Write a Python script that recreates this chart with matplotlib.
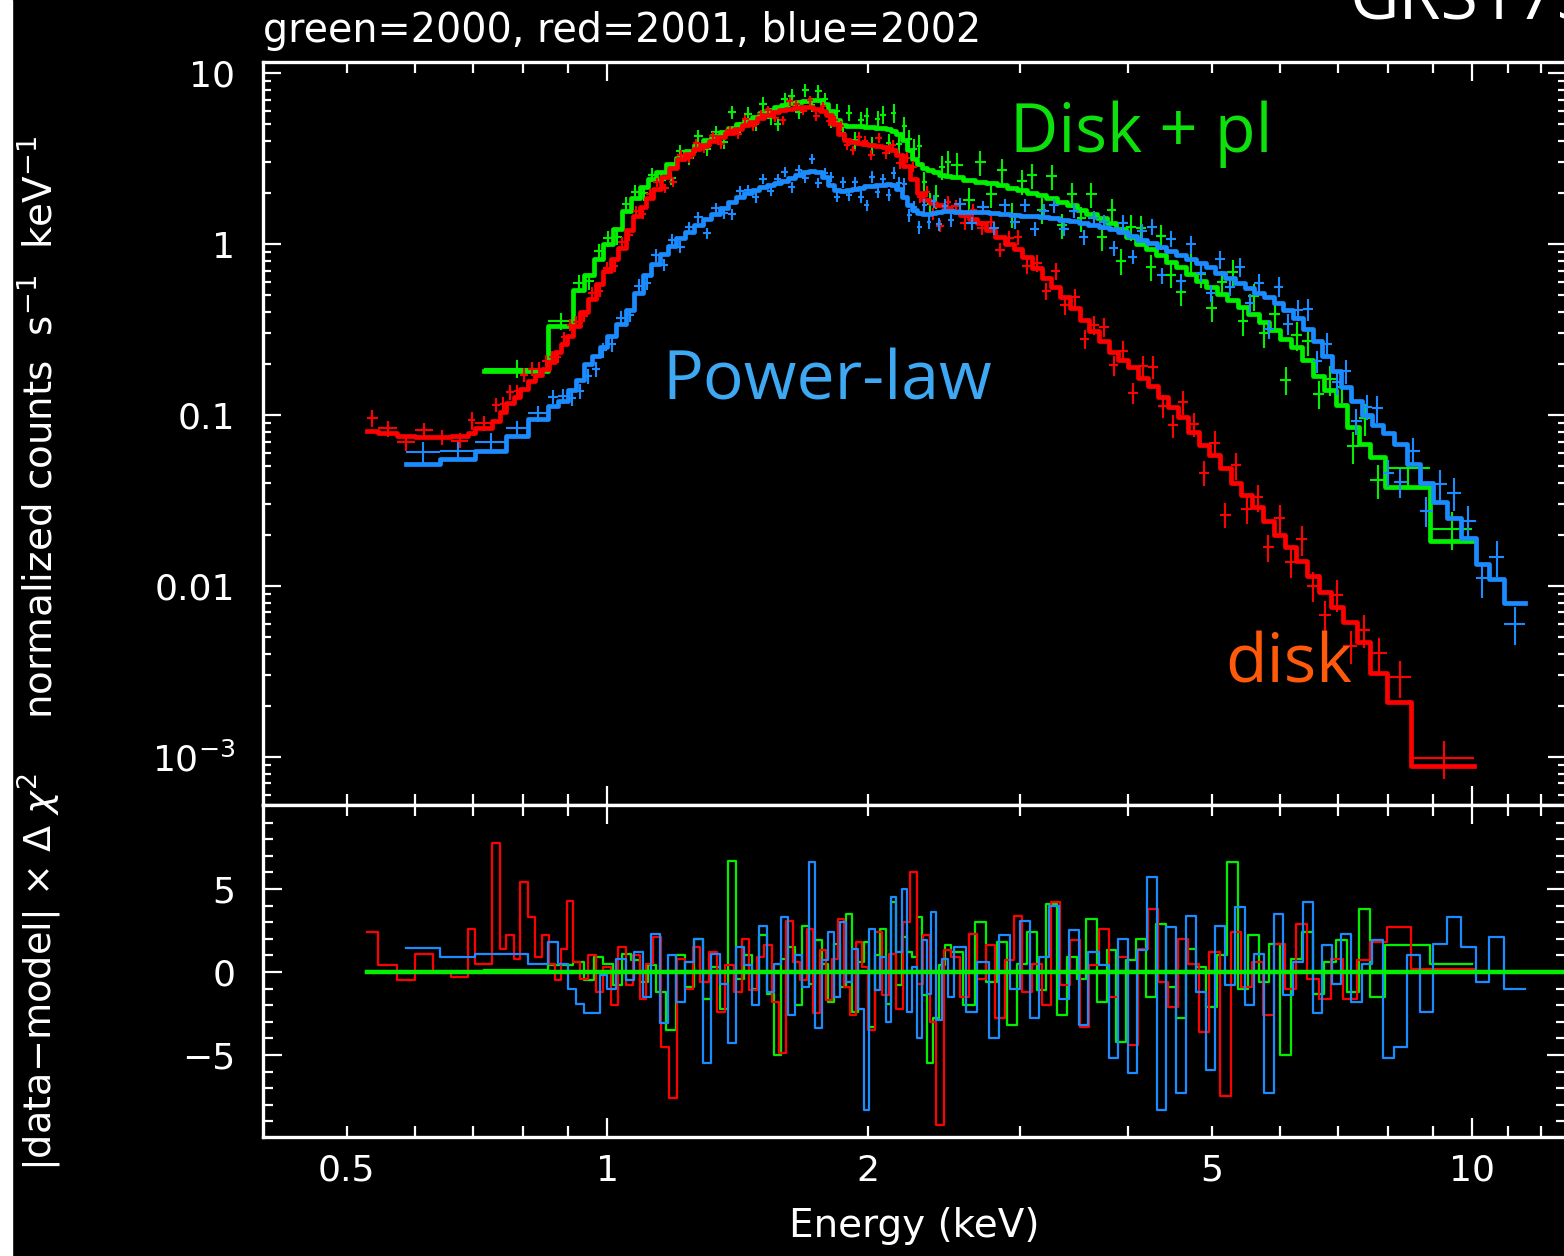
import numpy as np
import matplotlib
matplotlib.use("Agg")
import matplotlib.pyplot as plt
from matplotlib.ticker import FixedLocator, FixedFormatter, NullFormatter
from matplotlib.patches import Rectangle

# --- 2001 (red) : bin edges (keV), model, residual, relative error ---
red_edges = [0.527, 0.543, 0.572, 0.600, 0.629, 0.660, 0.691, 0.704, 0.735, 0.752,
             0.764, 0.781, 0.793, 0.810, 0.826, 0.841, 0.857, 0.871, 0.885, 0.899,
             0.913,
             0.93, 0.95, 0.97, 0.99, 1.01, 1.03, 1.05, 1.07, 1.09, 1.11,
             1.13, 1.155, 1.18, 1.205, 1.23, 1.255, 1.28, 1.31, 1.34, 1.37,
             1.40, 1.43, 1.46, 1.49, 1.52, 1.55, 1.58, 1.61, 1.64, 1.67,
             1.70, 1.73, 1.76, 1.79, 1.82, 1.85, 1.88, 1.91, 1.94, 1.97,
             2.00, 2.04, 2.08, 2.12, 2.16, 2.20, 2.24, 2.28, 2.32, 2.36,
             2.40, 2.45, 2.50,
             2.56, 2.62, 2.68, 2.74, 2.81, 2.88, 2.95, 3.02, 3.10, 3.18,
             3.26, 3.34, 3.43, 3.52, 3.61, 3.70, 3.80, 3.90, 4.00, 4.11,
             4.22, 4.33, 4.45, 4.57, 4.70, 4.83, 4.97, 5.11, 5.26, 5.41,
             5.57, 5.73, 5.90, 6.08, 6.26, 6.45, 6.65, 6.86, 7.10, 7.37,
             7.63, 7.98, 8.51, 10.05]
red_model = [0.081, 0.078, 0.075, 0.074, 0.074, 0.075, 0.078, 0.084, 0.092, 0.104,
             0.118, 0.128, 0.142, 0.158, 0.172, 0.185, 0.205, 0.233, 0.26, 0.29,
             0.33, 0.40, 0.48, 0.58, 0.70, 0.82, 0.95, 1.20, 1.45, 1.65,
             1.87, 2.10, 2.45, 2.80, 3.15, 3.38, 3.60, 3.80, 4.00, 4.22,
             4.45, 4.70, 4.95, 5.20, 5.45, 5.65, 5.95, 6.10, 6.20, 6.28,
             6.30, 6.30, 6.20, 6.00, 5.65, 5.00, 4.40, 4.05, 3.95, 3.88,
             3.84, 3.80, 3.76, 3.70, 3.55, 3.30, 2.85, 2.40, 2.00, 1.82,
             1.74, 1.68, 1.62,
             1.55, 1.48, 1.40, 1.32, 1.20, 1.10, 1.00, 0.93, 0.84, 0.72,
             0.63, 0.56, 0.49, 0.42, 0.36, 0.31, 0.27, 0.235, 0.21, 0.19,
             0.165, 0.148, 0.128, 0.112, 0.097, 0.080, 0.067, 0.058, 0.049, 0.040,
             0.034, 0.029, 0.024, 0.020, 0.017, 0.0140, 0.0115, 0.0092, 0.0075, 0.0062,
             0.0047, 0.0031, 0.0021, 0.00089]
red_resid = [2.4, 0.4, -0.5, 1.1, 0.0, -0.3, 2.6, 0.5, 7.8, 1.4,
             2.2, 0.8, 5.4, 3.3, 0.9, 2.2, 0.5, -0.5, 1.4, 4.3,
             0.6, -0.4, 1.0, -1.2, 0.3, -2.0, 1.5, -0.8, 1.0, -1.6,
             0.5, 2.1, -4.5, -7.6, 0.8, -1.0, 1.5, -0.6, 1.2, -2.4,
             0.4, -1.2, 2.0, -1.1, 0.9, 1.6, -1.8, -4.9, 3.1, 0.6,
             -0.5, 2.6, -2.5, 1.3, -1.7, 0.8, 3.2, -0.9, -2.6, 1.8,
             0.3, -3.5, 2.4, -1.4, 1.1, -2.2, 3.0, 6.0, -0.7, 2.2,
             -3.0, -9.2, 1.3,
             0.9, -1.5, 2.3, -0.4, 1.6, -2.8, 0.7, 3.4, -1.2, 0.5,
             -2.0, 4.2, -0.8, 1.9, -3.3, 0.4, 2.6, -1.5, 0.9, -4.4,
             1.4, 3.8, -0.6, -2.1, 2.0, 0.5, -3.6, 1.2, -7.5, 2.4,
             -0.9, 0.6, -2.6, 1.7, -1.0, 2.9, -0.4, -1.6, 0.8, -1.6,
             0.7, 1.8, 2.7, 0.2]
red_relerr = [0.12, 0.11, 0.11, 0.10, 0.10, 0.10, 0.12, 0.10, 0.09, 0.10,
              0.10, 0.09, 0.09, 0.10, 0.09, 0.08, 0.09, 0.08, 0.08, 0.08,
              0.08, 0.08, 0.08, 0.075, 0.075, 0.07, 0.07, 0.07, 0.07, 0.068,
              0.066, 0.065, 0.065, 0.064, 0.063, 0.062, 0.062, 0.061, 0.06, 0.06,
              0.06, 0.06, 0.06, 0.06, 0.06, 0.06, 0.06, 0.06, 0.06, 0.06,
              0.06, 0.06, 0.06, 0.06, 0.06, 0.062, 0.064, 0.065, 0.066, 0.067,
              0.068, 0.068, 0.069, 0.07, 0.07, 0.07, 0.072, 0.074, 0.075, 0.076,
              0.078, 0.078, 0.08,
              0.08, 0.085, 0.085, 0.09, 0.09, 0.095, 0.10, 0.10, 0.105, 0.11,
              0.11, 0.115, 0.12, 0.12, 0.125, 0.13, 0.13, 0.135, 0.14, 0.14,
              0.145, 0.15, 0.15, 0.155, 0.16, 0.16, 0.165, 0.17, 0.17, 0.175,
              0.18, 0.18, 0.185, 0.19, 0.19, 0.20, 0.20, 0.21, 0.21, 0.22,
              0.22, 0.23, 0.24, 0.25]

# --- 2002 (blue) ---
blue_edges = [0.586, 0.640, 0.703, 0.764, 0.81, 0.855, 0.878, 0.90, 0.92, 0.94,
              0.96, 0.98, 1.00,
              1.025, 1.05, 1.075, 1.10, 1.125, 1.15, 1.175, 1.20, 1.23, 1.26,
              1.29, 1.32, 1.35, 1.38, 1.41, 1.44, 1.47, 1.50, 1.53, 1.56,
              1.59, 1.62, 1.65, 1.68, 1.71, 1.74, 1.77, 1.80, 1.83, 1.86,
              1.89, 1.92, 1.95, 1.98, 2.01, 2.04, 2.07, 2.10, 2.13, 2.16,
              2.19, 2.22, 2.25, 2.28, 2.31, 2.34, 2.37, 2.40, 2.44, 2.48,
              2.52,
              2.60, 2.68, 2.76, 2.84, 2.92, 3.00, 3.08, 3.16, 3.24, 3.33,
              3.42, 3.51, 3.60, 3.70, 3.80, 3.90, 4.00, 4.10, 4.21, 4.32,
              4.43, 4.55, 4.67, 4.79, 4.92, 5.05, 5.18, 5.32, 5.46, 5.60,
              5.75, 5.90, 6.05, 6.21, 6.37, 6.54, 6.71, 6.88, 7.06, 7.25,
              7.45, 7.66, 7.88, 8.12, 8.40, 8.70, 9.00, 9.35, 9.70, 10.10,
              10.45, 10.90, 11.50]
blue_model = [0.052, 0.055, 0.062, 0.075, 0.095, 0.113, 0.12, 0.14, 0.16, 0.20,
              0.22, 0.25,
              0.29, 0.34, 0.41, 0.52, 0.66, 0.76, 0.88, 0.98, 1.08, 1.18,
              1.30, 1.40, 1.50, 1.62, 1.76, 1.88, 1.98, 2.08, 2.16, 2.22,
              2.28, 2.34, 2.42, 2.52, 2.62, 2.66, 2.62, 2.45, 2.22, 2.08,
              2.04, 2.06, 2.10, 2.14, 2.17, 2.19, 2.20, 2.22, 2.24, 2.22,
              2.10, 1.88, 1.70, 1.58, 1.52, 1.50, 1.50, 1.52, 1.54, 1.55,
              1.55,
              1.54, 1.54, 1.53, 1.51, 1.49, 1.47, 1.46, 1.45, 1.44, 1.42,
              1.39, 1.36, 1.33, 1.29, 1.26, 1.22, 1.17, 1.12, 1.06, 1.01,
              0.96, 0.91, 0.86, 0.82, 0.77, 0.73, 0.68, 0.63, 0.59, 0.55,
              0.52, 0.49, 0.45, 0.41, 0.37, 0.32, 0.27, 0.22, 0.18, 0.145,
              0.12, 0.10, 0.088, 0.078, 0.068, 0.052, 0.040, 0.031, 0.025, 0.019,
              0.0135, 0.011, 0.008]
blue_resid = [1.45, 0.9, 1.1, 1.1, 0.5, 1.8, 0.5, -1.0, -1.9, -2.5,
              -2.5, -0.2,
              -1.0, 0.8, -0.5, 1.2, -1.5, 2.3, -3.1, 1.0, -1.8, 0.6,
              2.0, -5.5, 1.1, -0.7, -4.3, 1.5, 0.4, -2.0, 2.8, -1.2,
              0.5, 3.3, -2.6, 1.0, -0.9, 6.6, -3.4, 0.7, 2.4, -1.5,
              3.0, -0.6, 1.4, -2.2, -8.3, 2.6, -1.1, 0.9, -3.0, 4.5,
              1.2, 5.0, -2.4, 0.3, -4.0, 1.9, -1.3, 3.6, -2.9, 0.8,
              -1.5,
              1.5, -2.4, 0.6, -4.0, 2.2, -1.0, 3.1, -2.8, 0.9, 4.0,
              -1.6, 2.5, -3.2, 1.2, 0.4, -5.2, 2.0, -6.1, 1.3, 5.7,
              -8.3, 2.7, -7.3, 3.4, -1.2, -5.9, 2.8, -0.8, 3.9, -2.0,
              1.1, -7.3, 3.5, -1.4, 0.6, 4.2, -2.5, 1.6, -0.7, 2.3,
              -1.8, 0.5, 1.9, -5.2, -4.5, 1.0, -2.4, 1.7, 3.3, 1.5,
              -0.6, 2.1, -1.0]
blue_relerr = [0.14, 0.13, 0.12, 0.11, 0.11, 0.10, 0.10, 0.10, 0.10, 0.10,
               0.10, 0.10,
               0.10, 0.095, 0.09, 0.09, 0.085, 0.085, 0.08, 0.08, 0.08, 0.078,
               0.076, 0.075, 0.074, 0.073, 0.072, 0.071, 0.07, 0.07, 0.07, 0.07,
               0.07, 0.07, 0.07, 0.07, 0.07, 0.07, 0.07, 0.07, 0.072, 0.074,
               0.075, 0.076, 0.077, 0.078, 0.078, 0.079, 0.08, 0.08, 0.08, 0.08,
               0.082, 0.084, 0.085, 0.086, 0.087, 0.088, 0.088, 0.089, 0.09, 0.09,
               0.09,
               0.09, 0.09, 0.09, 0.09, 0.09, 0.09, 0.09, 0.09, 0.092, 0.094,
               0.095, 0.096, 0.097, 0.098, 0.10, 0.10, 0.10, 0.10, 0.105, 0.105,
               0.11, 0.11, 0.11, 0.115, 0.115, 0.12, 0.12, 0.12, 0.125, 0.125,
               0.13, 0.13, 0.135, 0.14, 0.14, 0.145, 0.15, 0.15, 0.16, 0.16,
               0.17, 0.17, 0.18, 0.18, 0.19, 0.19, 0.20, 0.21, 0.22, 0.22,
               0.23, 0.24, 0.25]

# --- 2000 (green) ---
green_edges = [0.72, 0.855, 0.913, 0.94, 0.965, 0.99, 1.015, 1.04, 1.065, 1.09,
               1.115, 1.14, 1.17, 1.20, 1.23, 1.26, 1.29, 1.32, 1.35, 1.38,
               1.41, 1.44, 1.47, 1.50, 1.53, 1.56, 1.59, 1.62, 1.65, 1.68,
               1.71, 1.74, 1.77, 1.80, 1.83, 1.86, 1.89, 1.92, 1.95, 1.98,
               2.01, 2.04, 2.07, 2.10, 2.13, 2.16, 2.19, 2.22, 2.25, 2.28,
               2.31, 2.34, 2.38, 2.42, 2.46, 2.50,
               2.58, 2.66, 2.74, 2.82, 2.90, 2.98, 3.06, 3.14, 3.22, 3.31,
               3.40, 3.49, 3.58, 3.68, 3.78, 3.88, 3.98, 4.09, 4.20, 4.31,
               4.43, 4.55, 4.67, 4.80, 4.93, 5.07, 5.21, 5.36, 5.51, 5.67,
               5.83, 6.00, 6.18, 6.36, 6.55, 6.75, 6.96, 7.17, 7.40, 7.63,
               7.93, 8.94, 10.0]
green_model = [0.18, 0.33, 0.54, 0.66, 0.82, 1.00, 1.22, 1.55, 1.85, 2.15,
               2.40, 2.65, 2.92, 3.20, 3.50, 3.80, 4.05, 4.30, 4.55, 4.80,
               5.05, 5.30, 5.55, 5.85, 6.10, 6.30, 6.50, 6.65, 6.80, 6.90,
               7.00, 6.95, 6.60, 6.00, 5.30, 4.95, 4.90, 4.90, 4.88, 4.85,
               4.82, 4.80, 4.76, 4.72, 4.60, 4.40, 4.05, 3.55, 3.15, 2.95,
               2.80, 2.70, 2.62, 2.55, 2.50,
               2.45, 2.38, 2.32, 2.26, 2.20, 2.14, 2.08, 2.00, 1.93, 1.85,
               1.77, 1.68, 1.58, 1.50, 1.42, 1.32, 1.22, 1.10, 1.00, 0.93,
               0.86, 0.79, 0.73, 0.67, 0.61, 0.56, 0.51, 0.47, 0.43, 0.39,
               0.35, 0.315, 0.28, 0.25, 0.21, 0.17, 0.14, 0.115, 0.085, 0.068,
               0.057, 0.038, 0.0183]
green_resid = [0.1, 0.4, 0.6, -0.5, 0.9, 0.5, -0.8, 1.1, 0.7, -0.6,
               0.4, -1.2, -3.5, 1.0, -0.9, 2.0, -1.6, 0.3, -2.2, 6.7,
               -0.4, 1.0, -1.0, 2.2, -1.3, -5.0, 0.8, 1.5, -2.0, 2.8,
               -0.7, 1.9, 0.5, -1.8, 1.7, -0.9, 3.5, -2.4, 0.6, 1.8,
               -3.3, 1.0, 2.6, -1.9, 4.2, -0.8, 2.1, 1.2, 0.9, 3.3,
               -1.4, -5.5, -2.8, 0.4, 1.6,
               1.2, -2.0, 3.0, -0.6, 1.8, -3.2, 0.5, 2.4, -1.1, 4.1,
               -2.6, 0.9, -0.4, 3.2, -1.8, 1.3, -4.2, 0.7, 2.0, -1.5,
               2.9, -0.9, -2.8, 1.4, 0.3, -2.1, 1.0, 6.6, -1.0, 2.2,
               -0.6, 1.7, -5.0, 0.8, 2.4, -1.3, 0.6, 1.9, -1.2, 3.8,
               -1.5, 1.6, 0.5]
green_relerr = [0.12, 0.12, 0.12, 0.115, 0.11, 0.11, 0.105, 0.10, 0.10, 0.10,
                0.095, 0.095, 0.09, 0.09, 0.09, 0.09, 0.09, 0.09, 0.09, 0.09,
                0.09, 0.09, 0.09, 0.09, 0.09, 0.09, 0.09, 0.09, 0.09, 0.09,
                0.09, 0.09, 0.09, 0.095, 0.10, 0.10, 0.105, 0.11, 0.11, 0.115,
                0.12, 0.12, 0.125, 0.13, 0.13, 0.135, 0.14, 0.14, 0.145, 0.15,
                0.15, 0.155, 0.16, 0.16, 0.165,
                0.17, 0.17, 0.17, 0.17, 0.17, 0.17, 0.17, 0.17, 0.17, 0.17,
                0.17, 0.17, 0.17, 0.17, 0.17, 0.17, 0.17, 0.17, 0.17, 0.17,
                0.17, 0.17, 0.17, 0.17, 0.17, 0.17, 0.17, 0.18, 0.18, 0.18,
                0.18, 0.18, 0.19, 0.19, 0.19, 0.19, 0.20, 0.20, 0.21, 0.21,
                0.22, 0.23, 0.25]

GREEN = "#00f000"
RED = "#ff0000"
BLUE = "#1a8cff"

x_major = [1, 10]
x_minor = [0.5, 0.6, 0.7, 0.8, 0.9, 2, 3, 4, 5, 6, 7, 8, 9, 11, 12]
x_minor_labels = ["0.5", "", "", "", "", "2", "", "", "5", "", "", "", "", "", ""]
y_major = [1e-3, 1e-2, 1e-1, 1, 10]
y_major_labels = ["$10^{-3}$", "0.01", "0.1", "1", "10"]

W, H = 1564, 1256
fig = plt.figure(figsize=(W / 100, H / 100), dpi=100, facecolor="black")
fig.patches.append(Rectangle((0, 0), 12 / W, 1, transform=fig.transFigure,
                             color="white", zorder=0))

left = 263 / W
width = (1566 - 263) / W
ax = fig.add_axes([left, 1 - 805 / H, width, (805 - 62) / H])
axr = fig.add_axes([left, 1 - 1137 / H, width, (1137 - 805) / H])


def draw_set(edges, model, resid, relerr, color):
    edges = np.array(edges)
    model = np.array(model)
    resid = np.array(resid)
    relerr = np.array(relerr)
    assert len(edges) == len(model) + 1 == len(resid) + 1 == len(relerr) + 1
    lo, hi = edges[:-1], edges[1:]
    cen = 0.5 * (lo + hi)
    # data point sits where its residual says, in units of its own error
    data = model * (1 + np.sign(resid) * np.sqrt(np.abs(resid)) * relerr)
    ax.step(edges, np.append(model, model[-1]), where="post", color=color, lw=3.4)
    ax.errorbar(cen, data, xerr=[cen - lo, hi - cen], yerr=data * relerr,
                fmt="none", ecolor=color, elinewidth=1.5, capsize=0)
    axr.step(edges, np.append(resid, resid[-1]), where="post", color=color, lw=1.6)


draw_set(green_edges, green_model, green_resid, green_relerr, GREEN)
draw_set(red_edges, red_model, red_resid, red_relerr, RED)
draw_set(blue_edges, blue_model, blue_resid, blue_relerr, BLUE)
axr.plot([0.527, 14], [0, 0], color=GREEN, lw=3.2)

for a in (ax, axr):
    a.set_facecolor("black")
    a.set_xscale("log")
    a.set_xlim(0.400, 12.84)
    a.xaxis.set_major_locator(FixedLocator(x_major))
    a.xaxis.set_minor_locator(FixedLocator(x_minor))
    for s in a.spines.values():
        s.set_color("white")
        s.set_linewidth(2.4)
    a.tick_params(which="both", direction="in", top=True, right=True,
                  colors="white", width=1.6, labelsize=26)
    a.tick_params(axis="x", which="major", length=14)
    a.tick_params(axis="x", which="minor", length=8)

ax.set_yscale("log")
ax.set_ylim(5.24e-4, 11.6)
ax.yaxis.set_major_locator(FixedLocator(y_major))
ax.yaxis.set_major_formatter(FixedFormatter(y_major_labels))
ax.yaxis.set_minor_formatter(NullFormatter())
ax.tick_params(axis="y", which="major", length=13, pad=20)
ax.tick_params(axis="y", which="minor", length=6)
ax.tick_params(axis="x", which="both", labelbottom=False)

axr.set_ylim(-9.94, 10.06)
axr.yaxis.set_major_locator(FixedLocator([-5, 0, 5]))
axr.yaxis.set_minor_locator(FixedLocator([v for v in range(-9, 11) if v % 5]))
axr.tick_params(axis="y", which="major", length=14, pad=20)
axr.tick_params(axis="y", which="minor", length=7)
axr.xaxis.set_major_formatter(FixedFormatter(["1", "10"]))
axr.xaxis.set_minor_formatter(FixedFormatter(x_minor_labels))
axr.tick_params(axis="x", which="both", pad=12)
axr.set_xlabel("Energy (keV)", color="white", fontsize=28, labelpad=14)

fig.text(263 / W, 1 - 42 / H, "green=2000, red=2001, blue=2002", color="white",
         fontsize=28.5, ha="left", va="baseline")
fig.text(40 / W, 1 - 427 / H, r"normalized counts  s$^{-1}$  keV$^{-1}$",
         color="white", fontsize=28, rotation=90, ha="center", va="center")
fig.text(40 / W, 1 - 972 / H, r"|data$-$model| $\times$ $\Delta$ $\chi^2$",
         color="white", fontsize=27.5, rotation=90, ha="center", va="center")

fig.text(1350 / W, 1 - 20 / H, "GRS1758-258", color="white", fontsize=49,
         family="Open Sans", ha="left", va="baseline")
fig.text(1010 / W, 1 - 152 / H, "Disk + pl", color="#0de00d", fontsize=48,
         family="Open Sans", ha="left", va="baseline")
fig.text(662 / W, 1 - 400 / H, "Power-law", color="#3ea8f2", fontsize=49,
         family="Open Sans", ha="left", va="baseline")
fig.text(1225 / W, 1 - 682 / H, "disk", color="#ff5a0a", fontsize=49,
         family="Open Sans", ha="left", va="baseline")

fig.savefig("out.png", dpi=100, facecolor="black")
